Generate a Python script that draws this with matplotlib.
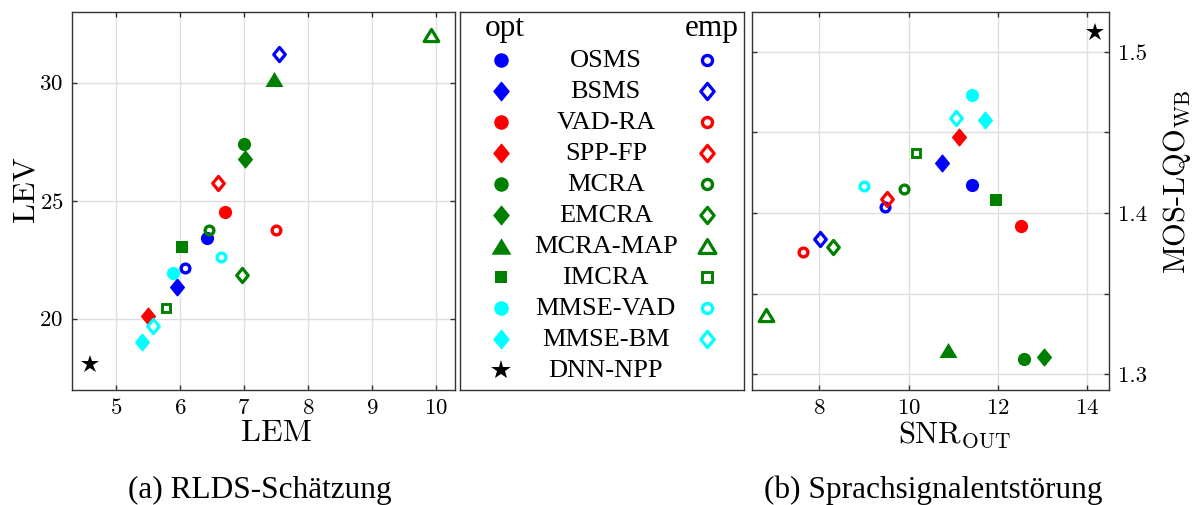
import numpy as np
import matplotlib.pyplot as plt
from matplotlib.path import Path

plt.rcParams['mathtext.fontset'] = 'cm'
plt.rcParams['axes.formatter.use_mathtext'] = True

# Verfahren und Farben
methods = ['OSMS', 'BSMS', 'VAD-RA', 'SPP-FP', 'MCRA', 'EMCRA',
           'MCRA-MAP', 'IMCRA', 'MMSE-VAD', 'MMSE-BM', 'DNN-NPP']
colors = ['blue', 'blue', 'red', 'red', 'green', 'green',
          'green', 'green', 'cyan', 'cyan', 'black']
shapes = ['o', 'D', 'o', 'D', 'o', 'D', '^', 's', 'o', 'D', '*']

# (a) RLDS-Schaetzung: LEM / LEV
lem_opt = [6.43, 5.96, 6.71, 5.51, 7.00, 7.02, 7.47, 6.03, 5.90, 5.41, 4.59]
lev_opt = [23.43, 21.33, 24.52, 20.11, 27.40, 26.75, 30.15, 23.05, 21.95, 19.03, 18.08]
lem_emp = [6.08, 7.55, 7.50, 6.59, 6.45, 6.97, 9.92, 5.78, 6.64, 5.58]
lev_emp = [22.14, 31.20, 23.76, 25.74, 23.76, 21.85, 32.00, 20.45, 22.60, 19.69]

# (b) Sprachsignalentstoerung: SNR_OUT / MOS-LQO_WB
snr_opt = [11.41, 10.75, 12.52, 11.12, 12.58, 13.03, 10.88, 11.95, 11.41, 11.71, 14.17]
mos_opt = [1.4176, 1.431, 1.392, 1.447, 1.3096, 1.311, 1.315, 1.408, 1.473, 1.458, 1.512]
snr_emp = [9.48, 8.01, 7.63, 9.51, 9.89, 8.30, 6.81, 10.17, 9.01, 11.07]
mos_emp = [1.404, 1.384, 1.376, 1.4085, 1.415, 1.379, 1.3365, 1.437, 1.417, 1.459]

# eigene Markerformen (Raute schmaler, Dreieck breiter als bei matplotlib)
diamond = Path([(0, 1), (0.82, 0), (0, -1), (-0.82, 0), (0, 1)],
               [Path.MOVETO, Path.LINETO, Path.LINETO, Path.LINETO, Path.CLOSEPOLY])
triangle = Path([(0, 0.83), (-1, -0.83), (1, -0.83), (0, 0.83)],
                [Path.MOVETO, Path.LINETO, Path.LINETO, Path.CLOSEPOLY])


def mstyle(shape, filled):
    if shape == 'o':
        return dict(marker='o', ms=9.5 if filled else 6.3, mew=0 if filled else 2.4)
    if shape == 'D':
        return dict(marker=diamond, ms=12 if filled else 10.2, mew=1.0 if filled else 2.3)
    if shape == '^':
        return dict(marker=triangle, ms=13 if filled else 10.5, mew=0 if filled else 2.3)
    if shape == 's':
        return dict(marker='s', ms=8.4 if filled else 6.2, mew=0 if filled else 2.1)
    return dict(marker='*', ms=13.5, mew=0)


def draw(ax, x, y, i, filled, scale=1.0):
    st = mstyle(shapes[i], filled)
    st['ms'] *= scale
    ax.plot(x, y, linestyle='none', color=colors[i],
            markerfacecolor=colors[i] if filled else 'none',
            markeredgecolor=colors[i], zorder=3, **st)


def style_axes(ax):
    ax.grid(True, color='#dedede', linewidth=1.0, zorder=0)
    ax.set_axisbelow(True)
    for s in ax.spines.values():
        s.set_color('#333333')
        s.set_linewidth(1.0)
    ax.tick_params(direction='in', length=3.5, width=1.0, color='#333333',
                   top=True, bottom=True, left=True, right=True,
                   labelsize=16.5, labelfontfamily='cmr10', pad=6)


fig = plt.figure(figsize=(12.01, 5.05), dpi=100)

# (a)
ax1 = fig.add_axes([0.0597, 0.2277, 0.3192, 0.749])
style_axes(ax1)
for i in range(len(methods)):
    draw(ax1, lem_opt[i], lev_opt[i], i, True)
for i in range(len(lem_emp)):
    draw(ax1, lem_emp[i], lev_emp[i], i, False)
ax1.set_xlim(4.31, 10.3)
ax1.set_ylim(16.98, 33.0)
ax1.set_xticks([5, 6, 7, 8, 9, 10])
ax1.set_yticks([20, 25, 30])
ax1.set_xlabel('LEM', fontsize=23, family='cmr10', va='center')
ax1.set_ylabel('LEV', fontsize=23, family='cmr10', va='center')
ax1.xaxis.set_label_coords(0.535, -0.114)
ax1.yaxis.set_label_coords(-0.12, 0.531)

# (b)
ax2 = fig.add_axes([0.6259, 0.2277, 0.2978, 0.749])
style_axes(ax2)
for i in range(len(methods)):
    draw(ax2, snr_opt[i], mos_opt[i], i, True)
for i in range(len(snr_emp)):
    draw(ax2, snr_emp[i], mos_emp[i], i, False)
ax2.set_xlim(6.49, 14.49)
ax2.set_ylim(1.2903, 1.5248)
ax2.set_xticks([8, 10, 12, 14])
ax2.set_yticks([1.3, 1.35, 1.4, 1.45, 1.5])
ax2.set_yticklabels(['1.3', '', '1.4', '', '1.5'])
ax2.yaxis.tick_right()
ax2.tick_params(left=True, right=True, labelleft=False, labelright=True)
ax2.yaxis.set_label_position('right')
ax2.set_xlabel(r'SNR$_{\mathrm{OUT}}$', fontsize=22, family='cmr10', va='center')
ax2.set_ylabel(r'MOS-LQO$_{\mathrm{WB}}$', fontsize=22, family='cmr10', va='center')
ax2.xaxis.set_label_coords(0.566, -0.119)
ax2.yaxis.set_label_coords(1.19, 0.552)

# Legende als eigene Achse: opt | Name | emp
axl = fig.add_axes([460 / 1201, 0.2277, 283.7 / 1201, 0.749])
axl.set_xlim(0, 1)
axl.set_ylim(10.645, -1.558)
axl.set_xticks([])
axl.set_yticks([])
for s in axl.spines.values():
    s.set_color('#333333')
    s.set_linewidth(1.0)
serif = 'Liberation Serif'
axl.text(0.159, -1.03, 'opt', fontsize=22.5, family=serif, ha='center', va='center')
axl.text(0.887, -1.03, 'emp', fontsize=22.5, family=serif, ha='center', va='center')
for i, name in enumerate(methods):
    draw(axl, 0.1435, i, i, True, scale=1.1)
    if i < len(lem_emp):
        draw(axl, 0.872, i, i, False, scale=1.15)
    axl.text(0.514, i + 0.02, name, fontsize=19, family=serif, ha='center', va='center')

fig.text(259.5 / 1201, 1 - 490 / 505, '(a) RLDS-Schätzung', fontsize=22.5,
         family=serif, ha='center', va='center')
fig.text(933 / 1201, 1 - 490 / 505, '(b) Sprachsignalentstörung', fontsize=22.5,
         family=serif, ha='center', va='center')

fig.savefig('out.png', dpi=100)
